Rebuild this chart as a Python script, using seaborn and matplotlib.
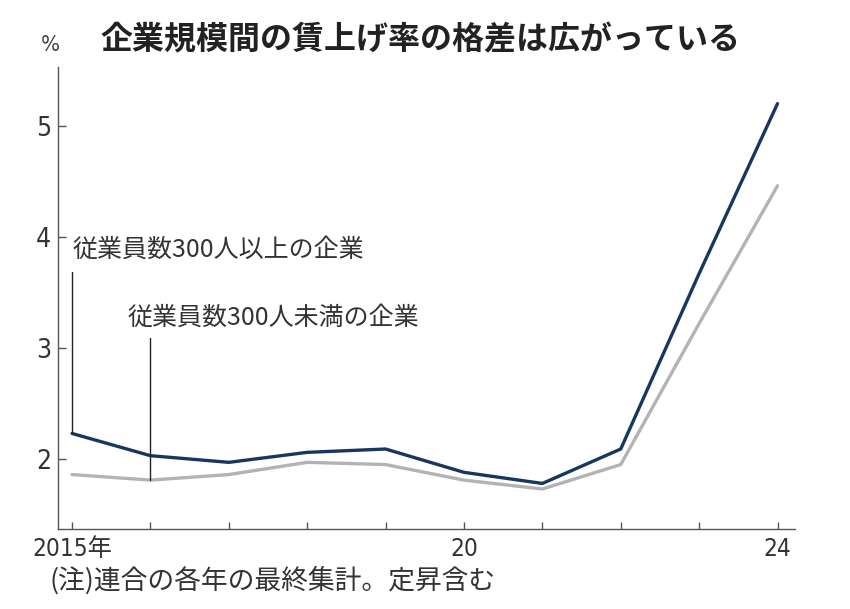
import matplotlib
matplotlib.use("Agg")
import matplotlib.pyplot as plt
from matplotlib import font_manager
import seaborn as sns
import pandas as pd

years = [2015, 2016, 2017, 2018, 2019, 2020, 2021, 2022, 2023, 2024]
large_firms = [2.23, 2.03, 1.97, 2.06, 2.09, 1.88, 1.78, 2.09, 3.67, 5.20]
small_firms = [1.86, 1.81, 1.86, 1.97, 1.95, 1.81, 1.73, 1.95, 3.22, 4.46]
series_names = ["従業員数300人以上の企業", "従業員数300人未満の企業"]
y_ticks = [2, 3, 4, 5]
x_tick_labels = {2015: "2015年", 2020: "20", 2024: "24"}
title = "企業規模間の賃上げ率の格差は広がっている"
note = "(注)連合の各年の最終集計。定昇含む"

sns.set_theme(style="white")
plt.rcParams["font.family"] = ["Noto Sans CJK JP", "DejaVu Sans"]

# pick a narrow face for numerals if one is installed
fonts = font_manager.fontManager.ttflist
names = {f.name for f in fonts}
num_stretch = "normal"
if "Liberation Sans Narrow" in names:
    num_family = ["Liberation Sans Narrow", "Noto Sans CJK JP"]
elif any(f.name == "DejaVu Sans" and str(f.stretch) in ("condensed", "semi-condensed")
         for f in fonts):
    num_family = ["DejaVu Sans", "Noto Sans CJK JP"]
    num_stretch = "condensed"
else:
    num_family = ["Noto Sans CJK JP", "DejaVu Sans"]

df = pd.DataFrame({
    "year": years * 2,
    "rate": large_firms + small_firms,
    "series": [series_names[0]] * len(years) + [series_names[1]] * len(years),
})

NAVY = "#17375f"
GRAY = "#b3b3b3"
AXC = "#555555"
TXT = "#333333"

fig = plt.figure(figsize=(8.5, 6.09), dpi=100)
ax = fig.add_axes([0.0682, 0.1314, 0.8668, 0.7586])

sns.lineplot(data=df, x="year", y="rate", hue="series",
             hue_order=[series_names[1], series_names[0]],
             palette={series_names[0]: NAVY, series_names[1]: GRAY},
             linewidth=2.4, ax=ax, legend=False)

ax.set_xlim(2014.82, 2024.22)
ax.set_ylim(1.37, 5.53)
ax.set_xlabel("")
ax.set_ylabel("")

for s in ["top", "right"]:
    ax.spines[s].set_visible(False)
for s in ["left", "bottom"]:
    ax.spines[s].set_color(AXC)
    ax.spines[s].set_linewidth(1.0)

ax.set_xticks(years)
ax.set_xticklabels([x_tick_labels.get(y, "") for y in years])
ax.set_yticks(y_ticks)
ax.set_yticklabels([str(v) for v in y_ticks])
ax.tick_params(axis="x", bottom=True, direction="in", length=5, width=1, color=AXC,
               pad=6, labelsize=17.5, labelcolor=TXT)
ax.tick_params(axis="y", left=True, direction="in", length=6, width=1, color=AXC,
               pad=5, labelsize=19, labelcolor=TXT)
for lab in ax.get_xticklabels() + ax.get_yticklabels():
    lab.set_family(num_family)
    lab.set_stretch(num_stretch)

# annotation leader lines and labels
ax.plot([years[0], years[0]], [large_firms[0], 3.68], color="#222222", lw=1.0)
ax.plot([years[1], years[1]], [small_firms[1], 3.09], color="#222222", lw=1.0)
ax.text(years[0], 3.88, series_names[0], fontsize=18, color=TXT,
        ha="left", va="center")
ax.text(2015.71, 3.27, series_names[1], fontsize=18, color=TXT,
        ha="left", va="center")

fig.text(100 / 850, 1 - 40 / 609, title, fontsize=23, fontweight="bold",
         color="#222222", ha="left", va="center")
fig.text(50 / 850, 1 - 45 / 609, "%", fontsize=16, color="#444444",
         ha="center", va="center", family=num_family, stretch=num_stretch)
fig.text(49 / 850, 1 - 581 / 609, note, fontsize=19.3, color=TXT,
         ha="left", va="center")

fig.savefig("out.png", dpi=100)
